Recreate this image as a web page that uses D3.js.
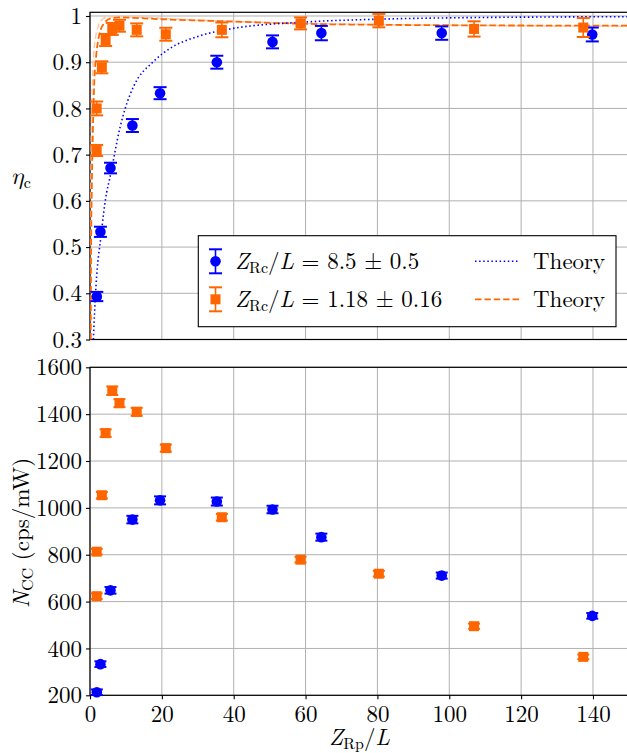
<!DOCTYPE html>
<html><head><meta charset="utf-8">
<script src="https://cdn.jsdelivr.net/npm/d3@7/dist/d3.min.js"></script>
<style>
body{margin:0;background:#fff}
svg{display:block}
</style>
</head><body>
<svg id="c" width="627" height="753"></svg>
<script>
// ---- data ----
const xTicks = [0, 20, 40, 60, 80, 100, 120, 140];
const etaTicks = [0.3, 0.4, 0.5, 0.6, 0.7, 0.8, 0.9, 1];
const nTicks = [200, 400, 600, 800, 1000, 1200, 1400, 1600];

const blueX = [1.9, 2.9, 5.7, 11.8, 19.5, 35.3, 50.8, 64.4, 97.9, 139.8];
const blueEta = [0.393, 0.533, 0.671, 0.763, 0.833, 0.900, 0.944, 0.963, 0.963, 0.960];
const blueEtaErr = [0.010, 0.011, 0.0115, 0.014, 0.013, 0.014, 0.014, 0.0155, 0.0145, 0.015];
const blueN = [213, 333, 648, 950, 1032, 1027, 993, 875, 711, 539];
const blueNErr = [12, 12, 14, 16, 17, 17, 16, 15, 13, 12];

const orangeX = [1.86, 1.86, 3.3, 4.35, 6.2, 8.2, 13.0, 21.1, 36.7, 58.6, 80.4, 106.9, 137.3];
const orangeEta = [0.709, 0.800, 0.889, 0.948, 0.972, 0.979, 0.970, 0.9605, 0.970, 0.984, 0.990, 0.972, 0.975];
const orangeEtaErr = [0.012, 0.015, 0.013, 0.013, 0.013, 0.013, 0.014, 0.014, 0.016, 0.013, 0.0145, 0.0165, 0.0205];
const orangeN = [623, 813, 1054, 1319, 1500, 1447, 1410, 1255, 960, 779, 719, 495, 364];
const orangeNErr = [12, 12, 14, 16, 18, 17, 17, 15, 14, 12, 12, 11, 10];

const blueTheoryX = [0.93, 1.67, 3.06, 4.6, 5.4, 8.4, 9.8, 12.1, 17.6, 22.3, 29.7, 39, 60, 80, 100, 150];
const blueTheoryEta = [0.30, 0.416, 0.524, 0.617, 0.645, 0.76, 0.80, 0.847, 0.901, 0.930, 0.955, 0.972, 0.987, 0.993, 0.996, 0.9985];
const orangeTheoryX = [0.2, 0.3, 0.47, 0.8, 1.2, 1.67, 2.6, 4.0, 5.8, 8, 12, 20, 40, 60, 80, 100, 150];
const orangeTheoryEta = [0.3, 0.5, 0.61, 0.75, 0.86, 0.91, 0.96, 0.985, 0.995, 0.997, 0.996, 0.993, 0.988, 0.983, 0.981, 0.980, 0.979];
const orangeTheory2X = [0.12, 0.25, 0.5, 0.9, 1.5, 2.4, 3.5, 5, 8, 15, 30, 60, 100, 150];
const orangeTheory2Eta = [0.3, 0.6, 0.8, 0.9, 0.95, 0.98, 0.993, 0.998, 0.999, 0.997, 0.991, 0.984, 0.980, 0.978];

const legendLabels = ["8.5 \u00b1 0.5", "1.18 \u00b1 0.16"];

// ---- layout ----
const FONT = "'Latin Modern Roman','Liberation Serif','DejaVu Serif',serif";
const GREEK = "'Latin Modern Math','DejaVu Serif','Liberation Serif',serif";
const BLUE = "#0000ff", ORANGE = "#ff6600", GRID = "#b0b0b0";
const svg = d3.select("#c").attr("font-family", FONT).style("font-family", FONT);
const L = 90, R = 628.9;
const x = d3.scaleLinear().domain([0, 150]).range([L, R]);
const yTop = d3.scaleLinear().domain([0.3, 1.008]).range([339.5, 12.3]);
const yBot = d3.scaleLinear().domain([200, 1600]).range([695.3, 367.3]);

svg.append("defs").html(
  `<clipPath id="clipTop"><rect x="${L}" y="${yTop.range()[1]}" width="${R-L}" height="${yTop.range()[0]-yTop.range()[1]}"/></clipPath>`);

function txt(sel) { return sel.style("font-family", FONT).attr("fill", "#000"); }

function panel(y, yTickVals, fmt, showX) {
  const g = svg.append("g");
  const [yb, yt] = y.range();
  g.append("g").selectAll("line").data(xTicks).join("line")
    .attr("x1", d => x(d)).attr("x2", d => x(d)).attr("y1", yt).attr("y2", yb)
    .attr("stroke", GRID).attr("stroke-width", 1);
  g.append("g").selectAll("line").data(yTickVals).join("line")
    .attr("x1", L).attr("x2", R).attr("y1", d => y(d)).attr("y2", d => y(d))
    .attr("stroke", GRID).attr("stroke-width", 1);
  const ay = g.append("g").attr("transform", `translate(${L},0)`)
    .call(d3.axisLeft(y).tickValues(yTickVals).tickFormat(fmt).tickSize(4).tickPadding(4));
  ay.attr("font-family", FONT);
  ay.select(".domain").remove();
  txt(ay.selectAll("text")).attr("font-size", 23).attr("dy", "0.33em");
  ay.selectAll("line").attr("stroke-width", 1.1);
  if (showX) {
    const ax = g.append("g").attr("transform", `translate(0,${yb})`)
      .call(d3.axisBottom(x).tickValues(xTicks).tickFormat(d3.format("d")).tickSize(4).tickPadding(6));
    ax.attr("font-family", FONT);
    ax.select(".domain").remove();
    txt(ax.selectAll("text")).attr("font-size", 23);
    ax.selectAll("line").attr("stroke-width", 1.1);
  }
  g.append("rect").attr("x", L).attr("y", yt).attr("width", R - L).attr("height", yb - yt)
    .attr("fill", "none").attr("stroke", "#000").attr("stroke-width", 1.2);
  return g;
}

function errorbars(g, xs, ys, es, y, color, shape, capW) {
  const gg = g.append("g");
  xs.forEach((xv, i) => {
    const cx = x(xv), y0 = y(ys[i] - es[i]), y1 = y(ys[i] + es[i]);
    gg.append("line").attr("x1", cx).attr("x2", cx).attr("y1", y0).attr("y2", y1)
      .attr("stroke", color).attr("stroke-width", 1.6);
    [y0, y1].forEach(yy => gg.append("line").attr("x1", cx - capW).attr("x2", cx + capW)
      .attr("y1", yy).attr("y2", yy).attr("stroke", color).attr("stroke-width", 2));
    if (shape === "circle") {
      gg.append("circle").attr("cx", cx).attr("cy", y(ys[i])).attr("r", 5.3).attr("fill", color);
    } else {
      gg.append("rect").attr("x", cx - 5).attr("y", y(ys[i]) - 5).attr("width", 10).attr("height", 10).attr("fill", color);
    }
  });
}

// ---- top panel ----
const gTop = panel(yTop, etaTicks, d => d === 1 ? "1" : d.toFixed(1), false);
const line = d3.line().curve(d3.curveMonotoneX);
const gLines = gTop.append("g").attr("clip-path", "url(#clipTop)");
gLines.append("path")
  .attr("d", line(orangeTheory2X.map((v, i) => [x(v), yTop(orangeTheory2Eta[i])])))
  .attr("fill", "none").attr("stroke", "#ffc9a3").attr("stroke-width", 1.5).attr("stroke-dasharray", "6.4,3");
gLines.append("path")
  .attr("d", line(orangeTheoryX.map((v, i) => [x(v), yTop(orangeTheoryEta[i])])))
  .attr("fill", "none").attr("stroke", ORANGE).attr("stroke-width", 1.8).attr("stroke-dasharray", "6.4,3");
gLines.append("path")
  .attr("d", line(blueTheoryX.map((v, i) => [x(v), yTop(blueTheoryEta[i])])))
  .attr("fill", "none").attr("stroke", BLUE).attr("stroke-width", 1.6).attr("stroke-dasharray", "1.5,2.6");
errorbars(gTop, blueX, blueEta, blueEtaErr, yTop, BLUE, "circle", 6.5);
errorbars(gTop, orangeX, orangeEta, orangeEtaErr, yTop, ORANGE, "square", 6.5);

// legend
const lg = svg.append("g");
lg.append("rect").attr("x", 198.3).attr("y", 235.7).attr("width", 417.7).attr("height", 91)
  .attr("fill", "#fff").attr("stroke", "#000").attr("stroke-width", 1.1);
[[BLUE, "circle", 261.3], [ORANGE, "square", 299.3]].forEach(([c, s, yy], i) => {
  const mx = 215.5;
  lg.append("line").attr("x1", mx).attr("x2", mx).attr("y1", yy - 12).attr("y2", yy + 12).attr("stroke", c).attr("stroke-width", 1.6);
  [yy - 12, yy + 12].forEach(v => lg.append("line").attr("x1", mx - 6.5).attr("x2", mx + 6.5).attr("y1", v).attr("y2", v).attr("stroke", c).attr("stroke-width", 2));
  if (s === "circle") lg.append("circle").attr("cx", mx).attr("cy", yy).attr("r", 5.3).attr("fill", c);
  else lg.append("rect").attr("x", mx - 5).attr("y", yy - 5).attr("width", 10).attr("height", 10).attr("fill", c);
  const t = txt(lg.append("text")).attr("x", 235).attr("y", yy + 8).attr("font-size", 23);
  t.append("tspan").attr("font-style", "italic").text("Z");
  t.append("tspan").attr("font-size", 16).attr("dy", 4).text("Rc");
  t.append("tspan").attr("dy", -4).text("/");
  t.append("tspan").attr("font-style", "italic").text("L");
  t.append("tspan").text(" = " + legendLabels[i]);
  lg.append("line").attr("x1", 475).attr("x2", 519.5).attr("y1", yy).attr("y2", yy)
    .attr("stroke", c).attr("stroke-width", s === "circle" ? 1.6 : 1.8)
    .attr("stroke-dasharray", s === "circle" ? "1.5,2.6" : "6.4,3");
  txt(lg.append("text")).attr("x", 533).attr("y", yy + 8).attr("font-size", 23).text("Theory");
});

// y label top
const yl1 = txt(svg.append("text")).attr("x", 11).attr("y", 184).attr("font-size", 24);
yl1.append("tspan").attr("font-style", "italic").style("font-family", GREEK).text("\u03b7");
yl1.append("tspan").attr("font-size", 16).attr("dy", 4).text("c");

// ---- bottom panel ----
const gBot = panel(yBot, nTicks, d3.format("d"), true);
errorbars(gBot, blueX, blueN, blueNErr, yBot, BLUE, "circle", 6);
errorbars(gBot, orangeX, orangeN, orangeNErr, yBot, ORANGE, "square", 6);

// y label bottom
const yl2 = txt(svg.append("text")).attr("transform", "translate(29,533) rotate(-90)")
  .attr("text-anchor", "middle").attr("font-size", 23);
yl2.append("tspan").attr("font-style", "italic").text("N");
yl2.append("tspan").attr("font-size", 16).attr("dy", 4).text("CC");
yl2.append("tspan").attr("dy", -4).text(" (cps/mW)");

// x label
const xl = txt(svg.append("text")).attr("x", x(75)).attr("y", 745).attr("text-anchor", "middle").attr("font-size", 23);
xl.append("tspan").attr("font-style", "italic").text("Z");
xl.append("tspan").attr("font-size", 16).attr("dy", 4).text("Rp");
xl.append("tspan").attr("dy", -4).text("/");
xl.append("tspan").attr("font-style", "italic").text("L");
</script>
</body></html>
